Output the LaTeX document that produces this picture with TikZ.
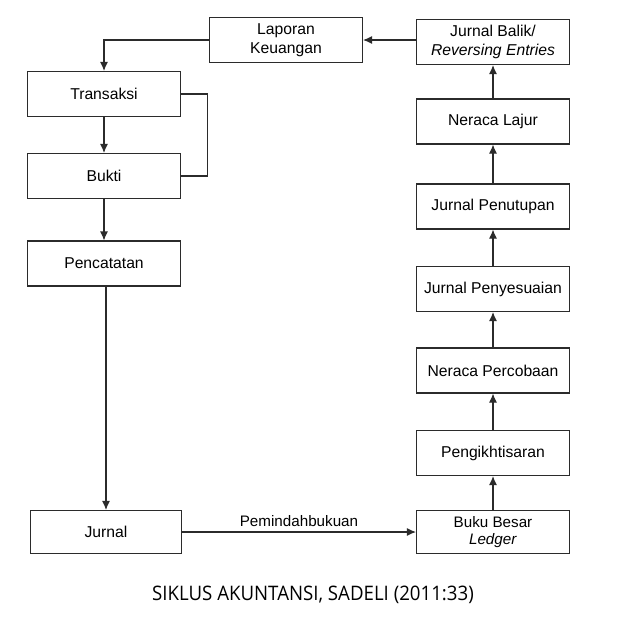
\documentclass[tikz,border=0pt]{standalone}
\usepackage{fontspec}
\usepackage{graphicx}
\setmainfont{Liberation Sans}
\newfontfamily\judulfont{Open Sans}
\usetikzlibrary{arrows.meta}
\definecolor{garis}{HTML}{2B2B2B}
\tikzset{
  kotak/.style={draw=garis, line width=1.1pt, minimum width=153pt, minimum height=45pt,
    align=center, inner sep=2pt, font=\fontsize{15.7}{19}\selectfont},
  panah/.style={draw=garis, line width=1.1pt, -{Latex[length=9pt,width=8pt]}},
  garisbiasa/.style={draw=garis, line width=1.1pt}
}
\begin{document}
\begin{tikzpicture}[x=1pt, y=-1pt]
\useasboundingbox (0,0) rectangle (626,640);
% kolom kiri et kolom kanan
\def\kiri{104}
\def\kanan{493}

% kotak-kotak
\node[kotak] (laporan) at (286,40) {Laporan\\Keuangan};
\node[kotak] (balik) at (\kanan,42) {Jurnal Balik/\\\textit{Reversing Entries}};
\node[kotak] (transaksi) at (\kiri,94) {Transaksi};
\node[kotak] (bukti) at (\kiri,176) {Bukti};
\node[kotak] (pencatatan) at (\kiri,263.5) {Pencatatan};
\node[kotak, minimum width=151pt, minimum height=43pt] (jurnal) at (\kiri+2,532) {Jurnal};
\node[kotak] (lajur) at (\kanan,121.5) {Neraca Lajur};
\node[kotak] (penutupan) at (\kanan,206.5) {Jurnal Penutupan};
\node[kotak] (penyesuaian) at (\kanan,289) {Jurnal Penyesuaian};
\node[kotak] (percobaan) at (\kanan,370.5) {Neraca Percobaan};
\node[kotak] (ikhtisar) at (\kanan,453) {Pengikhtisaran};
\node[kotak, minimum height=43pt, font=\fontsize{15.2}{17}\selectfont] (buku) at (\kanan,532) {Buku Besar\\\textit{Ledger}};

% panah
\draw[panah] (laporan.west) -| (transaksi.north);
\draw[panah] (transaksi) -- (bukti);
\draw[garisbiasa] (transaksi.east) -- ++(26,0) |- (bukti.east);
\draw[panah] (bukti) -- (pencatatan);
\draw[panah] (pencatatan.south -| jurnal.north) -- (jurnal.north);
\draw[panah] (jurnal.east) -- node[above=1pt, font=\fontsize{15.2}{17}\selectfont] (pindah) {Pemindahbukuan} (buku.west);
\draw[panah] (buku) -- (ikhtisar);
\draw[panah] (ikhtisar) -- (percobaan);
\draw[panah] (percobaan) -- (penyesuaian);
\draw[panah] (penyesuaian) -- (penutupan);
\draw[panah] (penutupan) -- (lajur);
\draw[panah] (lajur) -- (balik);
\draw[panah] (balik.west |- laporan.east) -- (laporan.east);

% judul
\node[font=\judulfont\fontsize{20}{24}\selectfont] (judul) at (313,595) {\scalebox{0.933}[1]{SIKLUS AKUNTANSI, SADELI (2011:33)}};
\end{tikzpicture}
\end{document}
